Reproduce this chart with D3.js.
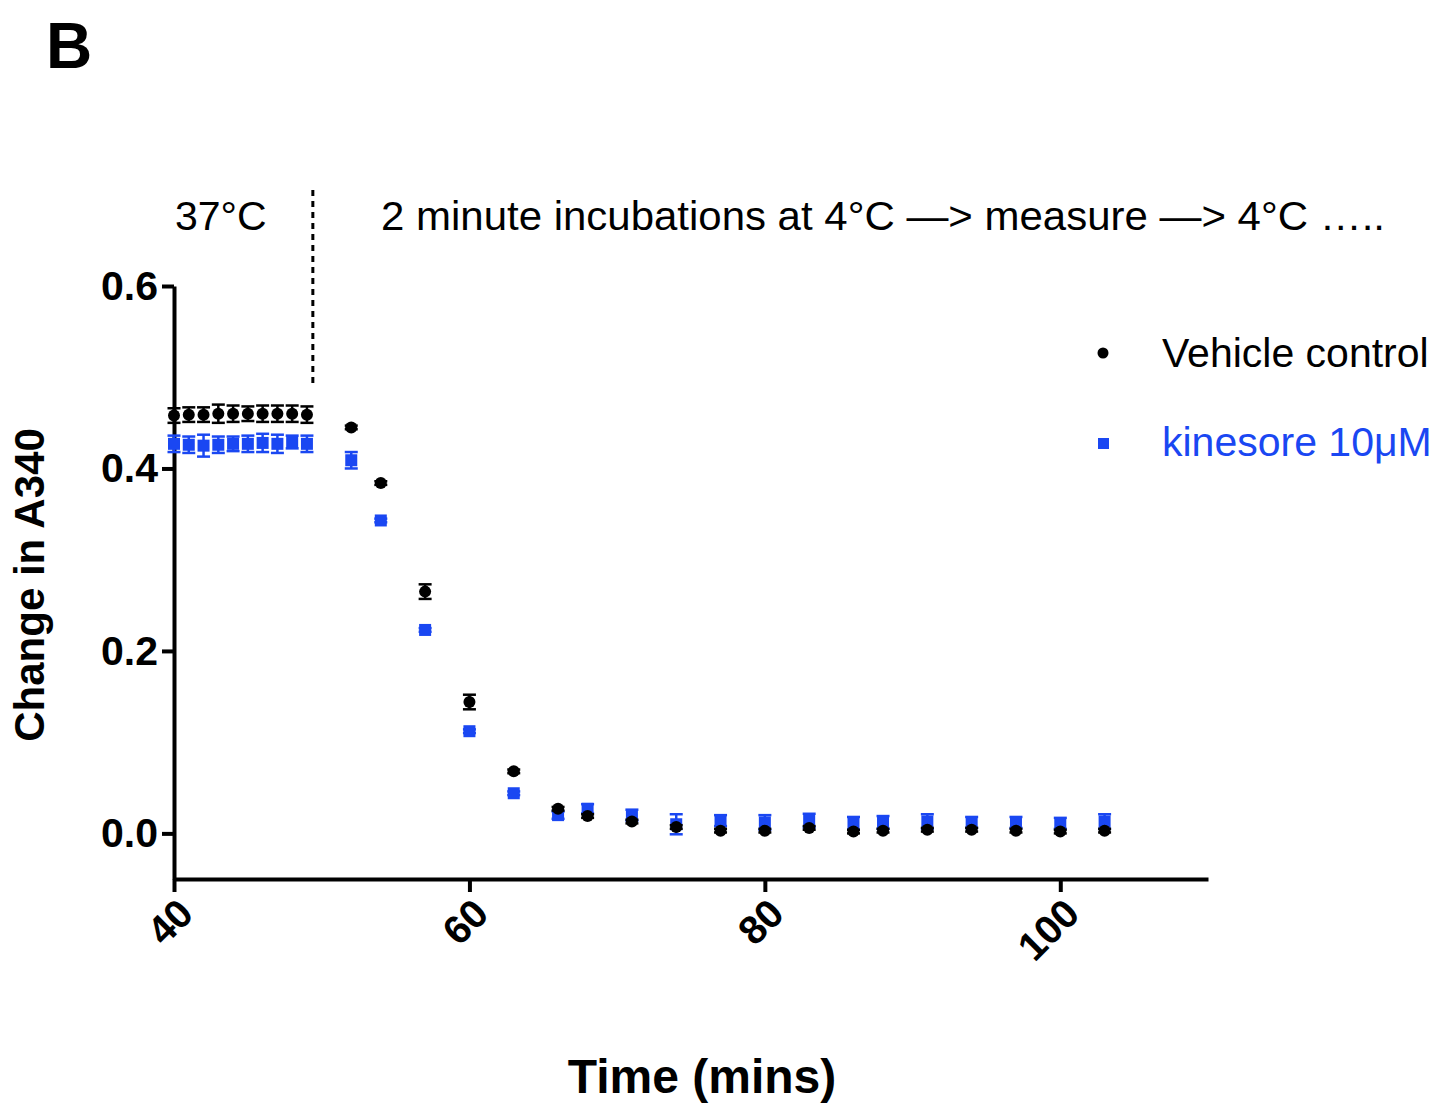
<!DOCTYPE html>
<html>
<head>
<meta charset="utf-8">
<script src="https://cdn.jsdelivr.net/npm/d3@7"></script>
<style>
  body { margin: 0; background: #fff; }
  svg { display: block; font-family: "Liberation Sans", Arial, sans-serif; }
</style>
</head>
<body>
<svg id="chart" width="1445" height="1104"></svg>
<script>
// time points (mins)
const times = [40, 41, 42, 43, 44, 45, 46, 47, 48, 49,
  52, 54, 57, 60, 63, 66, 68, 71, 74, 77, 80, 83, 86, 88, 91, 94, 97, 100, 103]

const vehicleMean = [0.458, 0.459, 0.459, 0.460, 0.460, 0.460, 0.460, 0.460, 0.460, 0.459,
  0.445, 0.384, 0.265, 0.144, 0.068, 0.027, 0.019, 0.013, 0.007, 0.003, 0.003, 0.006, 0.002,
  0.003, 0.004, 0.004, 0.003, 0.002, 0.003]
const vehicleErr = [0.008, 0.008, 0.008, 0.010, 0.009, 0.008, 0.009, 0.009, 0.009, 0.009,
  0.002, 0.002, 0.008, 0.008, 0.002, 0.002, 0.002, 0.002, 0.002, 0.002, 0.002, 0.002, 0.002,
  0.002, 0.002, 0.002, 0.002, 0.002, 0.002]

const kinesoreMean = [0.427, 0.426, 0.425, 0.426, 0.427, 0.427, 0.428, 0.427, 0.429, 0.427,
  0.409, 0.343, 0.223, 0.112, 0.044, 0.020, 0.027, 0.020, 0.010, 0.014, 0.012, 0.014, 0.011,
  0.012, 0.013, 0.012, 0.012, 0.011, 0.013]
const kinesoreErr = [0.009, 0.009, 0.012, 0.009, 0.008, 0.009, 0.010, 0.010, 0.007, 0.009,
  0.009, 0.002, 0.002, 0.002, 0.002, 0.004, 0.005, 0.006, 0.011, 0.006, 0.008, 0.0075, 0.007,
  0.007, 0.008, 0.006, 0.006, 0.006, 0.008]

const xTicks = [40, 60, 80, 100]
const yTicks = [0.0, 0.2, 0.4, 0.6]
const seriesNames = ["Vehicle control", "kinesore 10μM"]
const phaseSplit = 49.4

const blue = "#1a47f2"
const svg = d3.select("#chart")

const x = d3.scaleLinear().domain([40, 110]).range([174, 1208])
const y = d3.scaleLinear().domain([-0.05, 0.6]).range([879, 286])

//axes
const xAxis = svg.append("g")
  .attr("transform", "translate(0," + y(-0.05) + ")")
  .call(d3.axisBottom(x).tickValues(xTicks).tickSize(13).tickPadding(6).tickSizeOuter(0))
xAxis.select(".domain").attr("stroke-width", 4)
xAxis.selectAll(".tick line").attr("stroke-width", 4)
xAxis.selectAll(".tick text")
  .attr("font-size", 40)
  .attr("font-weight", "bold")
  .attr("fill", "#000")
  .attr("text-anchor", "end")
  .attr("y", 0)
  .attr("dy", "0.35em")
  .attr("transform", "translate(11,27) rotate(-45)")

const yAxis = svg.append("g")
  .attr("transform", "translate(" + x(40) + ",0)")
  .call(d3.axisLeft(y).tickValues(yTicks).tickFormat(d3.format(".1f")).tickSize(12).tickPadding(4).tickSizeOuter(0))
yAxis.select(".domain").attr("stroke-width", 4)
yAxis.selectAll(".tick line").attr("stroke-width", 4)
yAxis.selectAll(".tick text")
  .attr("font-size", 41)
  .attr("font-weight", "bold")
  .attr("fill", "#000")

//titles
svg.append("text")
  .attr("x", 46).attr("y", 68)
  .attr("font-size", 64).attr("font-weight", "bold")
  .text("B")

svg.append("text")
  .attr("transform", "translate(44," + 585 + ") rotate(-90)")
  .attr("text-anchor", "middle")
  .attr("font-size", 42).attr("font-weight", "bold")
  .text("Change in A340")

svg.append("text")
  .attr("x", 702).attr("y", 1093)
  .attr("text-anchor", "middle")
  .attr("font-size", 48).attr("font-weight", "bold")
  .text("Time (mins)")

//phase annotations
svg.append("line")
  .attr("x1", x(phaseSplit)).attr("x2", x(phaseSplit))
  .attr("y1", 190).attr("y2", 386)
  .attr("stroke", "#000")
  .attr("stroke-width", 3)
  .attr("stroke-dasharray", "6,5")

svg.append("text")
  .attr("x", 175).attr("y", 230)
  .attr("font-size", 41)
  .text("37°C")

svg.append("text")
  .attr("x", 381).attr("y", 230)
  .attr("font-size", 41)
  .attr("textLength", 1004)
  .attr("lengthAdjust", "spacingAndGlyphs")
  .text("2 minute incubations at 4°C —> measure —> 4°C …..")

//data
const series = [
  { name: seriesNames[1], mean: kinesoreMean, err: kinesoreErr, color: blue, shape: "square" },
  { name: seriesNames[0], mean: vehicleMean, err: vehicleErr, color: "#000", shape: "circle" }
]

series.forEach(s => {
  const pts = times.map((t, i) => ({ t: t, m: s.mean[i], e: s.err[i] }))
  const g = svg.append("g")
  const bars = g.selectAll(".err").data(pts).enter().append("g")
  bars.append("line")
    .attr("x1", d => x(d.t)).attr("x2", d => x(d.t))
    .attr("y1", d => y(d.m - d.e)).attr("y2", d => y(d.m + d.e))
    .attr("stroke", s.color).attr("stroke-width", 2.5)
  ;[-1, 1].forEach(sgn => {
    bars.append("line")
      .attr("x1", d => x(d.t) - 6.5).attr("x2", d => x(d.t) + 6.5)
      .attr("y1", d => y(d.m + sgn * d.e)).attr("y2", d => y(d.m + sgn * d.e))
      .attr("stroke", s.color).attr("stroke-width", 2.5)
  })
  if (s.shape === "circle") {
    g.selectAll(".pt").data(pts).enter().append("circle")
      .attr("cx", d => x(d.t)).attr("cy", d => y(d.m)).attr("r", 6)
      .attr("fill", s.color)
  } else {
    g.selectAll(".pt").data(pts).enter().append("rect")
      .attr("x", d => x(d.t) - 6).attr("y", d => y(d.m) - 6)
      .attr("width", 12).attr("height", 12)
      .attr("fill", s.color)
  }
})

//legend
const legend = svg.append("g")
legend.append("circle").attr("cx", 1103).attr("cy", 353).attr("r", 5.5).attr("fill", "#000")
legend.append("text").attr("x", 1162).attr("y", 367).attr("font-size", 41)
  .attr("fill", "#000").text(seriesNames[0])
legend.append("rect").attr("x", 1098).attr("y", 438).attr("width", 11).attr("height", 11).attr("fill", blue)
legend.append("text").attr("x", 1162).attr("y", 456).attr("font-size", 41)
  .attr("fill", blue).text(seriesNames[1])
</script>
</body>
</html>
